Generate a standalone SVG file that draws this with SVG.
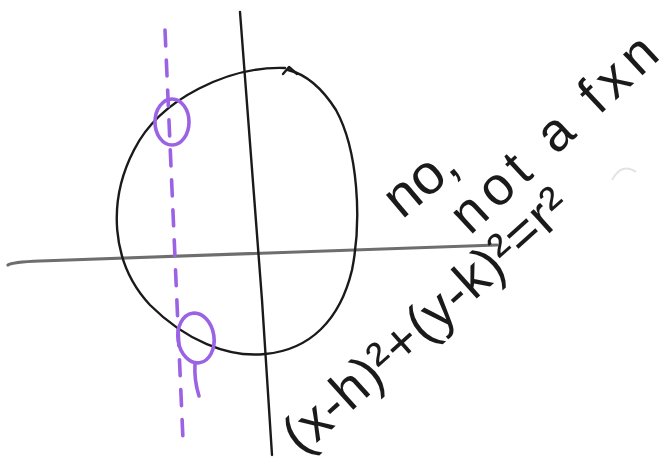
<svg xmlns="http://www.w3.org/2000/svg" width="669" height="470" viewBox="0 0 669 470">
<style>
.ink{fill:none;stroke:#1a1a1a;stroke-width:2.4;stroke-linecap:round;stroke-linejoin:round}
.axisx{fill:none;stroke:#6e6e6e;stroke-width:3.2;stroke-linecap:round}
.purple{fill:none;stroke:#9b63e4;stroke-width:3.6;stroke-linecap:round}
.hand{font-family:"Liberation Sans","DejaVu Sans",sans-serif;fill:#1a1a1a;font-weight:normal}
</style>
<rect width="669" height="470" fill="#ffffff"/>
<g id="axes">
<path class="axisx" d="M 8,265 Q 12,262 40,261 L 497,245"/>
<path class="ink" d="M 240,12 L 262,300 L 272,455"/>
</g>
<g id="circle">
<path class="ink" d="M 285,68 C 230,66 160,98 134,150 C 108,200 110,262 150,305 C 185,340 228,358 265,354 C 310,350 340,320 352,270 C 362,220 358,150 336,110 C 322,88 305,74 288,70"/>
<path class="ink" d="M 283,74 L 289,67 L 297,74"/>
</g>
<g id="vertical-line">
<path class="purple" d="M 165,30 L 183,440" stroke-dasharray="16 14"/>
<ellipse class="purple" cx="172" cy="122" rx="17" ry="23"/>
<ellipse class="purple" cx="196" cy="338" rx="18" ry="25" transform="rotate(-8 196 338)"/>
<path class="purple" d="M 195,364 Q 194,380 199,396"/>
</g>
<g id="labels">
<text class="hand" font-size="56" transform="translate(402,220) rotate(-40)">no,</text>
<text class="hand" font-size="54" textLength="262" lengthAdjust="spacing" transform="translate(470,236) rotate(-43)">not a fxn</text>
<text class="hand" font-size="54" textLength="366" lengthAdjust="spacing" transform="translate(302,456) rotate(-42)">(x-h)²+(y-k)²=r²</text>
<path d="M 612,180 Q 622,162 636,172" fill="none" stroke="#e3e3e3" stroke-width="2"/>
</g>
</svg>
